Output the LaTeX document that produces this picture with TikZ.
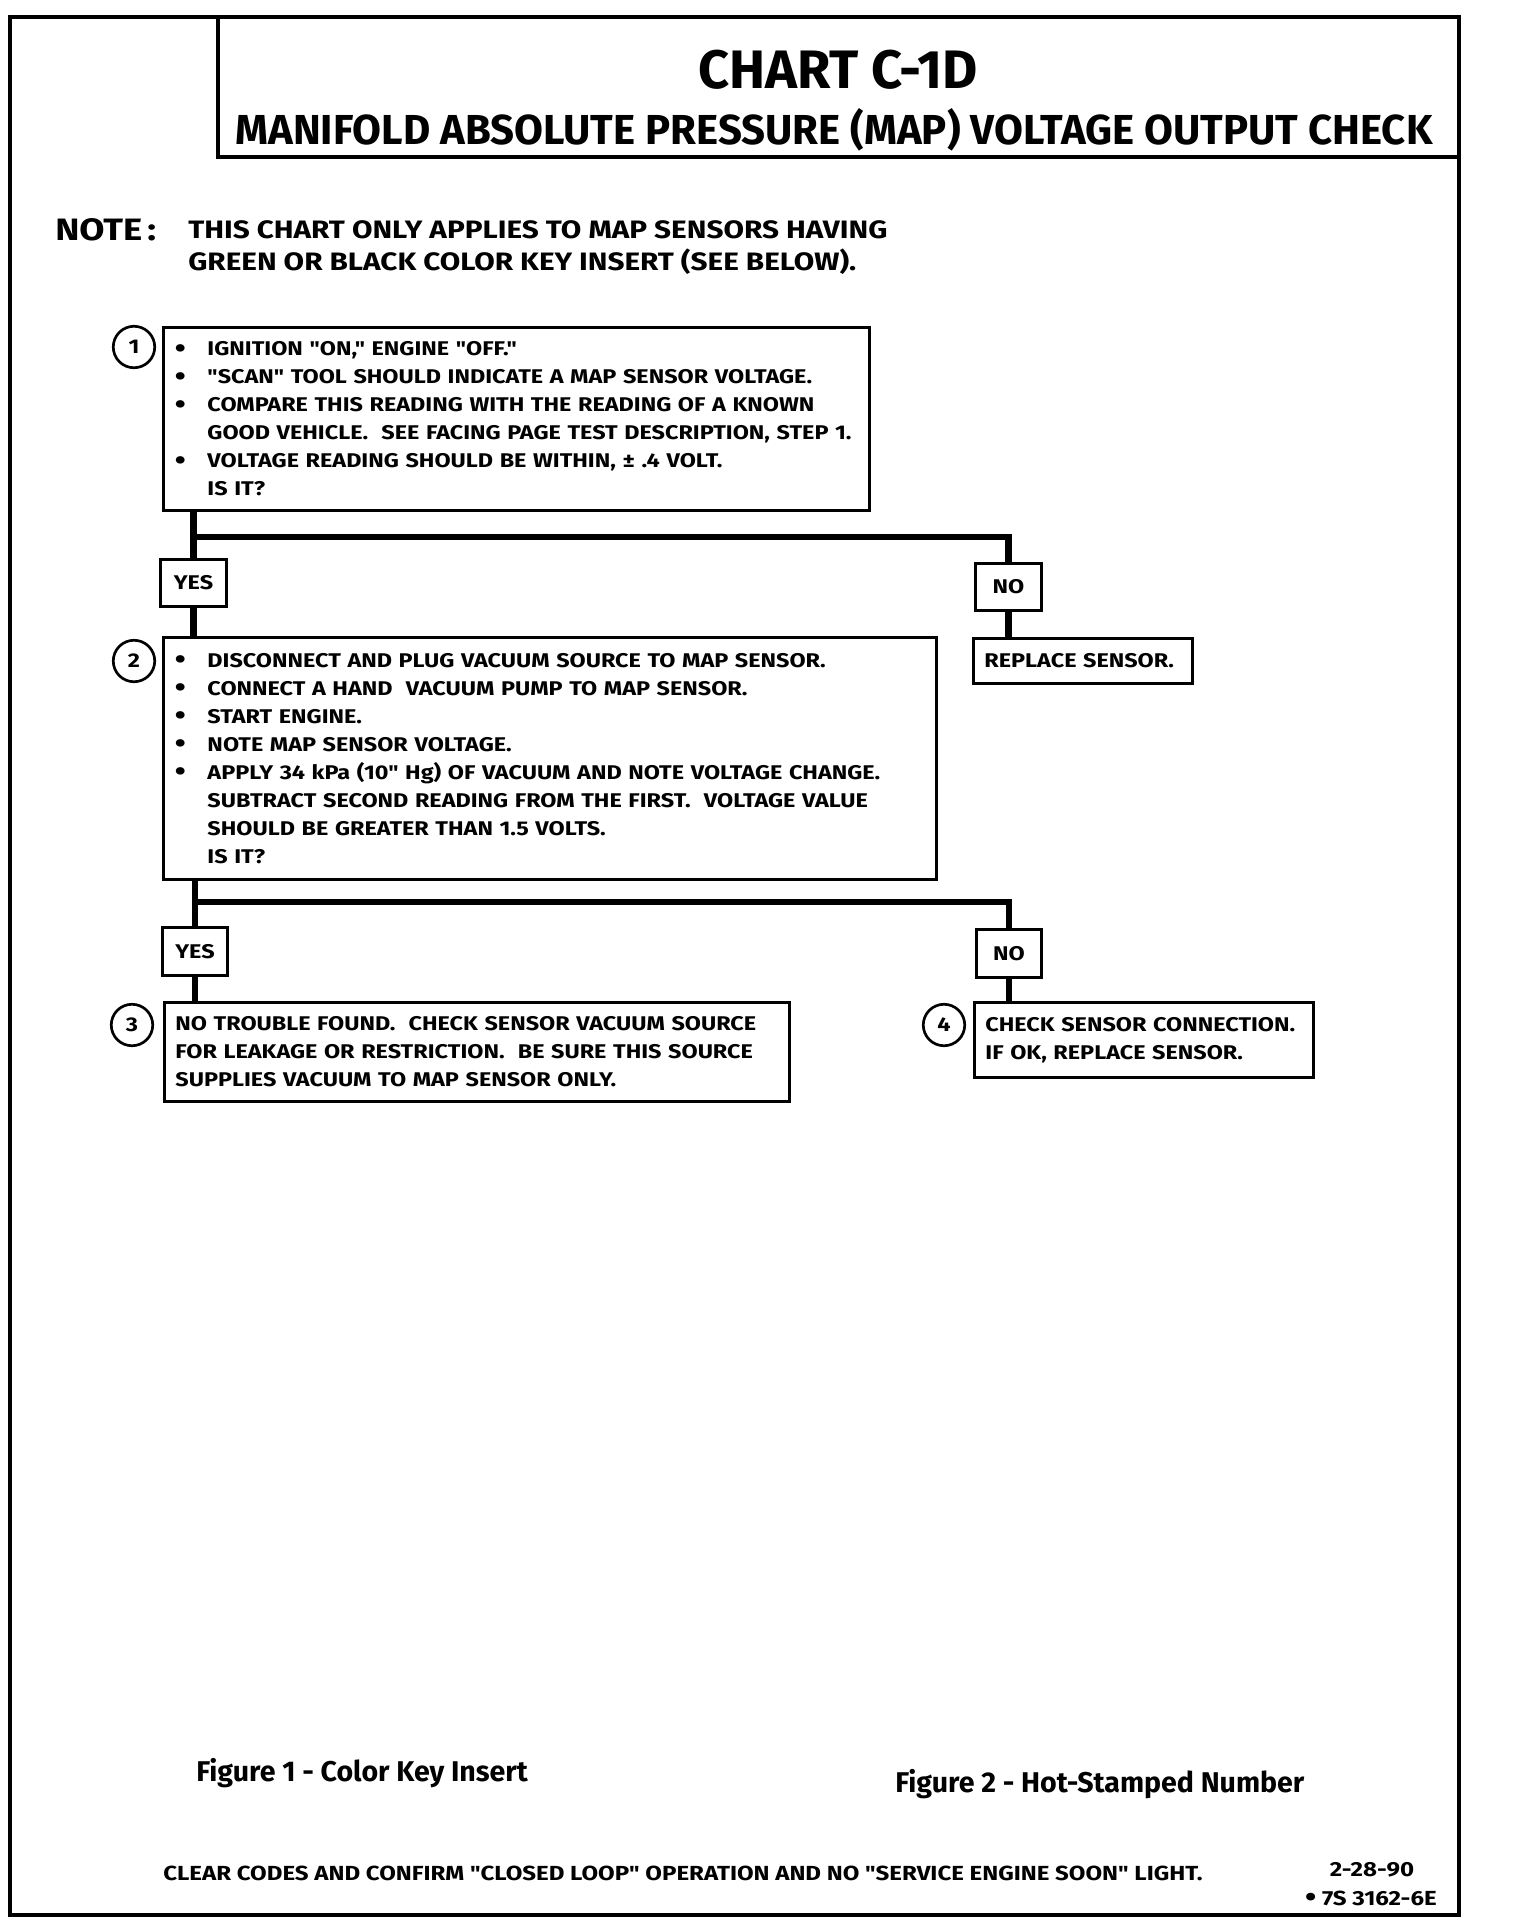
\documentclass[tikz,border=0pt]{standalone}
\usepackage{fontspec}
\setmainfont{Fira Sans}
\newfontfamily\capsfont[FakeStretch=1.18]{Fira Sans}
\newcommand\stepfont{\fontsize{14.1pt}{19.9pt}\capsfont\bfseries}
\newcommand\bigdot{\raisebox{-0.06em}{\scalebox{1.35}{\textbullet}}}
\newcommand\bitem{\makebox[23.5pt][l]{\hspace{0.3pt}\bigdot}}
\newcommand\bhang{\hspace*{23.5pt}}

\begin{document}
\begin{tikzpicture}[x=0.025cm, y=-0.025cm,
  stepbox/.style={draw, line width=2.1pt, anchor=north west, align=left,
    inner xsep=7.8pt, inner ysep=0pt, font=\stepfont},
  answer/.style={draw, line width=2.1pt, inner sep=0pt, minimum width=46.5pt,
    minimum height=33.5pt, font=\stepfont},
  num/.style={circle, draw, line width=1.9pt, inner sep=0pt, minimum size=29.5pt, font=\stepfont},
  link/.style={line width=4.8pt},
  frame/.style={line width=2.6pt}]
\useasboundingbox (0,0) rectangle (1520,1922);

% frame and title block
\draw[frame] (10,17) rectangle (1459,1915);
\draw[frame] (218,17) |- (1459,157);
\node[font=\fontsize{38.5pt}{40pt}\selectfont\bfseries, anchor=base] (title) at (838,88) {CHART C-1D};
\node[font=\fontsize{29.8pt}{32pt}\selectfont\bfseries, anchor=base] (subtitle) at (834,144)
  {MANIFOLD ABSOLUTE PRESSURE (MAP) VOLTAGE OUTPUT CHECK};

% note
\node[font=\fontsize{22pt}{24pt}\capsfont\bfseries, anchor=base west, inner sep=0pt] (note) at (55,240) {NOTE\,:};
\node[font=\fontsize{17.9pt}{22.8pt}\capsfont\bfseries, anchor=north west, align=left, inner sep=0pt] (notetext) at (188,220)
  {THIS CHART ONLY APPLIES TO MAP SENSORS HAVING\\GREEN OR BLACK COLOR KEY INSERT (SEE BELOW).};

% step 1
\node[num] (n1) at (134,347) {1};
\node[stepbox, text width=486.6pt, minimum height=130.2pt] (b1) at (162,326)
  {\bitem IGNITION "ON," ENGINE "OFF."\\
   \bitem "SCAN" TOOL SHOULD INDICATE A MAP SENSOR VOLTAGE.\\
   \bitem COMPARE THIS READING WITH THE READING OF A KNOWN\\
   \bhang GOOD VEHICLE.~ SEE FACING PAGE TEST DESCRIPTION, STEP 1.\\
   \bitem VOLTAGE READING SHOULD BE WITHIN, ± .4 VOLT.\\
   \bhang IS IT?};

\node[answer] (yes1) at (193.5,583) {YES};
\node[answer] (no1) at (1008.5,587) {NO};
\coordinate (fork1) at (193.5,537);
\node[stepbox, text width=140.2pt, minimum height=32pt] (rs) at (972,637) {REPLACE SENSOR.};

% step 2
\node[num] (n2) at (134,661) {2};
\node[stepbox, text width=534.2pt, minimum height=172.1pt] (b2) at (162,636)
  {\bitem DISCONNECT AND PLUG VACUUM SOURCE TO MAP SENSOR.\\
   \bitem CONNECT A HAND~ VACUUM PUMP TO MAP SENSOR.\\
   \bitem START ENGINE.\\
   \bitem NOTE MAP SENSOR VOLTAGE.\\
   \bitem APPLY 34 kPa (10" Hg) OF VACUUM AND NOTE VOLTAGE CHANGE.\\
   \bhang SUBTRACT SECOND READING FROM THE FIRST.~ VOLTAGE VALUE\\
   \bhang SHOULD BE GREATER THAN 1.5 VOLTS.\\
   \bhang IS IT?};

\node[answer] (yes2) at (195,951.5) {YES};
\node[answer] (no2) at (1009,953.5) {NO};
\coordinate (fork2) at (195,902);

% steps 3 and 4
\node[num] (n3) at (132,1025) {3};
\node[stepbox, text width=429pt, minimum height=70.4pt] (b3) at (163,1001)
  {NO TROUBLE FOUND.~ CHECK SENSOR VACUUM SOURCE\\
   FOR LEAKAGE OR RESTRICTION.~ BE SURE THIS SOURCE\\
   SUPPLIES VACUUM TO MAP SENSOR ONLY.};
\node[num] (n4) at (944,1025) {4};
\node[stepbox, text width=225.5pt, minimum height=53.3pt] (b4) at (973,1001)
  {CHECK SENSOR CONNECTION.\\IF OK, REPLACE SENSOR.};

% connectors
\draw[link] (b1.south -| yes1) -- (yes1.north);
\draw[link] (fork1) -| (no1.north);
\draw[link] (no1.south) -- (no1.south |- rs.north);
\draw[link] (yes1.south) -- (yes1.south |- b2.north);
\draw[link] (b2.south -| yes2) -- (yes2.north);
\draw[link] (fork2) -| (no2.north);
\draw[link] (yes2.south) -- (yes2.south |- b3.north);
\draw[link] (no2.south) -- (no2.south |- b4.north);

% captions and footer
\node[font=\fontsize{20.3pt}{24pt}\selectfont\bfseries, anchor=base west, inner sep=0pt] (fig1) at (196,1781) {Figure 1 - Color Key Insert};
\node[font=\fontsize{20.3pt}{24pt}\selectfont\bfseries, anchor=base west, inner sep=0pt] (fig2) at (895,1792) {Figure 2 - Hot-Stamped Number};
\node[font=\fontsize{14.5pt}{20pt}\capsfont\bfseries, anchor=base west, inner sep=0pt] (footer) at (163,1880)
  {CLEAR CODES AND CONFIRM "CLOSED LOOP" OPERATION AND NO "SERVICE ENGINE SOON" LIGHT.};
\node[font=\fontsize{14.5pt}{20pt}\capsfont\bfseries, anchor=base] (date) at (1372,1876) {2-28-90};
\node[font=\fontsize{14.5pt}{20pt}\capsfont\bfseries, anchor=base east, inner sep=0pt] (code) at (1437,1905) {\bigdot\ 7S 3162-6E};
\end{tikzpicture}
\end{document}
